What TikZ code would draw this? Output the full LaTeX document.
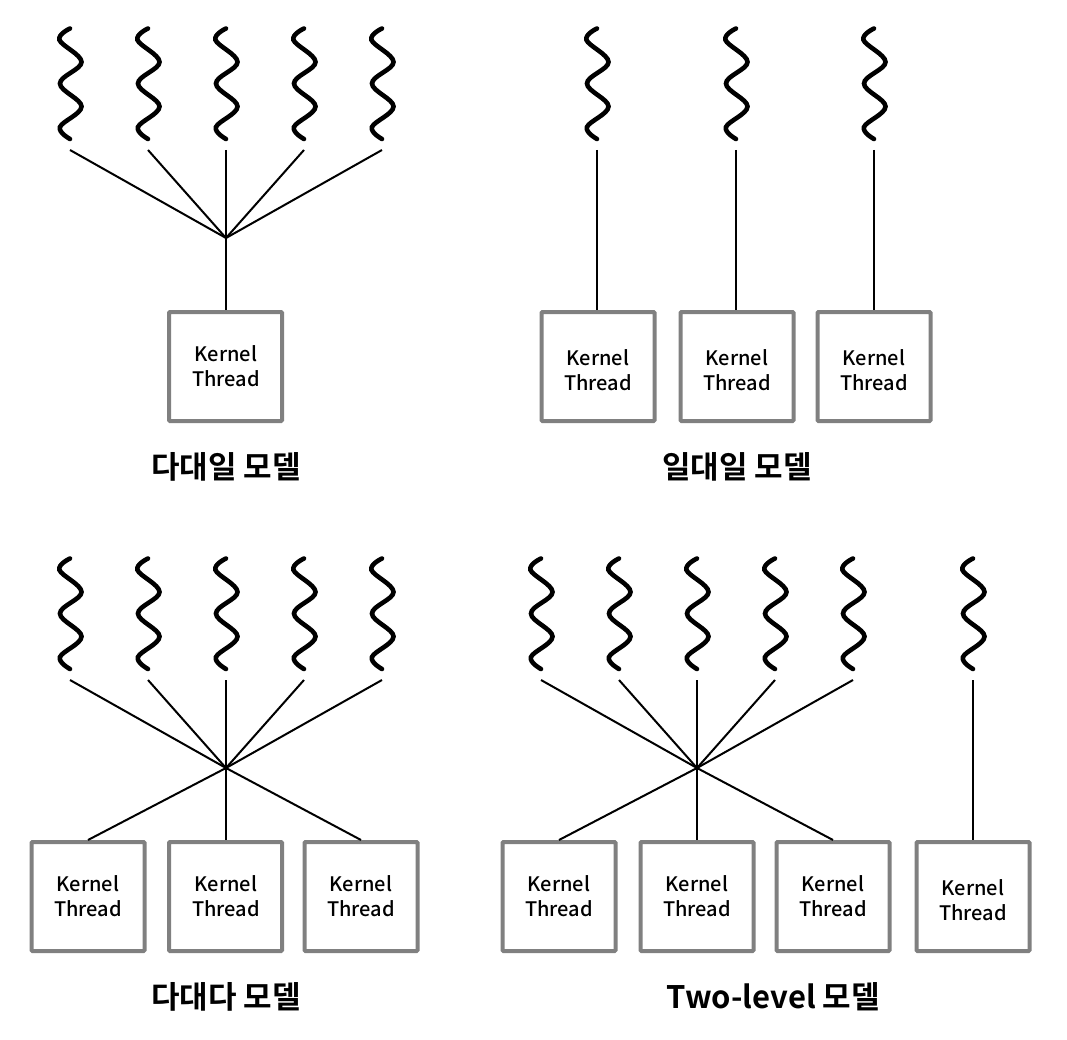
\documentclass[tikz,border=0pt]{standalone}
\usepackage{fontspec}
\setmainfont{Noto Sans CJK KR Medium}
\newfontfamily\krbold{Noto Sans CJK KR Bold}
\begin{document}
\begin{tikzpicture}[x=1pt,y=-1pt,
  kbox/.style={draw=kgray,line width=4pt,rounded corners=1pt,minimum width=113pt,minimum height=109pt,inner sep=0pt},
  ktext/.style={align=center,font=\fontsize{20}{25}\selectfont,inner sep=0pt},
  title/.style={font=\krbold\fontsize{31}{34}\selectfont,inner sep=0pt},
  link/.style={line width=2pt,black},
  pics/wave/.style={code={
    \draw[line width=4.6pt,line cap=round,black] plot[smooth,tension=0.62] coordinates {(0,0) (-10.5,11.5) (11.5,33.5) (-10,55) (11.5,78) (-10,98.5) (0,110.5)};
  }}]
\definecolor{kgray}{RGB}{128,128,128}
\useasboundingbox (0,0) rectangle (1067,1040);

% many-to-one
\foreach \x/\n in {70/a,148/b,226/c,304/d,382/e}{
  \pic at (\x,28.5) {wave};
  \coordinate (A\n) at (\x,150);
}
\coordinate (Ahub) at (226,238);
\node[kbox] (Abox) at (225.5,366.5) {};
\node[ktext] (Atext) at (226,366.5) {Kernel\\Thread};
\foreach \n in {a,b,c,d,e} \draw[link] (A\n) -- (Ahub);
\draw[link] (Ahub) -- (Ahub |- Abox.north);
\node[title] (Atitle) at (226,467) {다대일 모델};

% one-to-one
\foreach \x/\n in {597/a,736/b,874/c}{
  \pic at (\x,28.5) {wave};
  \coordinate (B\n) at (\x,150);
}
\node[kbox] (Bboxa) at (598,366.5) {};
\node[kbox] (Bboxb) at (737,366.5) {};
\node[kbox] (Bboxc) at (874,366.5) {};
\node[ktext] (Btexta) at (598,370) {Kernel\\Thread};
\node[ktext] (Btextb) at (737,370) {Kernel\\Thread};
\node[ktext] (Btextc) at (874,370) {Kernel\\Thread};
\draw[link] (Ba) -- (Ba |- Bboxa.north);
\draw[link] (Bb) -- (Bb |- Bboxb.north);
\draw[link] (Bc) -- (Bc |- Bboxc.north);
\node[title] (Btitle) at (737,467) {일대일 모델};

% many-to-many
\foreach \x/\n in {70/a,148/b,226/c,304/d,382/e}{
  \pic at (\x,558.5) {wave};
  \coordinate (C\n) at (\x,680);
}
\coordinate (Chub) at (226,768);
\node[kbox] (Cboxa) at (88,896.5) {};
\node[kbox] (Cboxb) at (225.5,896.5) {};
\node[kbox] (Cboxc) at (361,896.5) {};
\node[ktext] (Ctexta) at (88,896.5) {Kernel\\Thread};
\node[ktext] (Ctextb) at (226,896.5) {Kernel\\Thread};
\node[ktext] (Ctextc) at (361,896.5) {Kernel\\Thread};
\foreach \n in {a,b,e} \draw[link] (C\n) -- (Chub);
\foreach \n in {c,d} \draw[link] (C\n) -- (Chub);
\draw[link] (Chub) -- (Cboxa.north);
\draw[link] (Chub) -- (Chub |- Cboxb.north);
\draw[link] (Chub) -- (Cboxc.north);
\node[title] (Ctitle) at (226,997) {다대다 모델};

% two-level
\foreach \x/\n in {541/a,619/b,697/c,775/d,853/e,973/f}{
  \pic at (\x,558.5) {wave};
  \coordinate (D\n) at (\x,680);
}
\coordinate (Dhub) at (697,768);
\node[kbox] (Dboxa) at (559,896.5) {};
\node[kbox] (Dboxb) at (697,896.5) {};
\node[kbox] (Dboxc) at (833,896.5) {};
\node[kbox] (Dboxd) at (973,896.5) {};
\node[ktext] (Dtexta) at (559,896.5) {Kernel\\Thread};
\node[ktext] (Dtextb) at (697,896.5) {Kernel\\Thread};
\node[ktext] (Dtextc) at (833,896.5) {Kernel\\Thread};
\node[ktext] (Dtextd) at (973,900) {Kernel\\Thread};
\foreach \n in {a,b,c,d,e} \draw[link] (D\n) -- (Dhub);
\foreach \n in {a,b,c} \draw[link] (Dhub) -- (Dbox\n.north);
\draw[link] (Df) -- (Df |- Dboxd.north);
\node[title] (Dtitle) at (773.5,997) {Two-level 모델};
\end{tikzpicture}
\end{document}
